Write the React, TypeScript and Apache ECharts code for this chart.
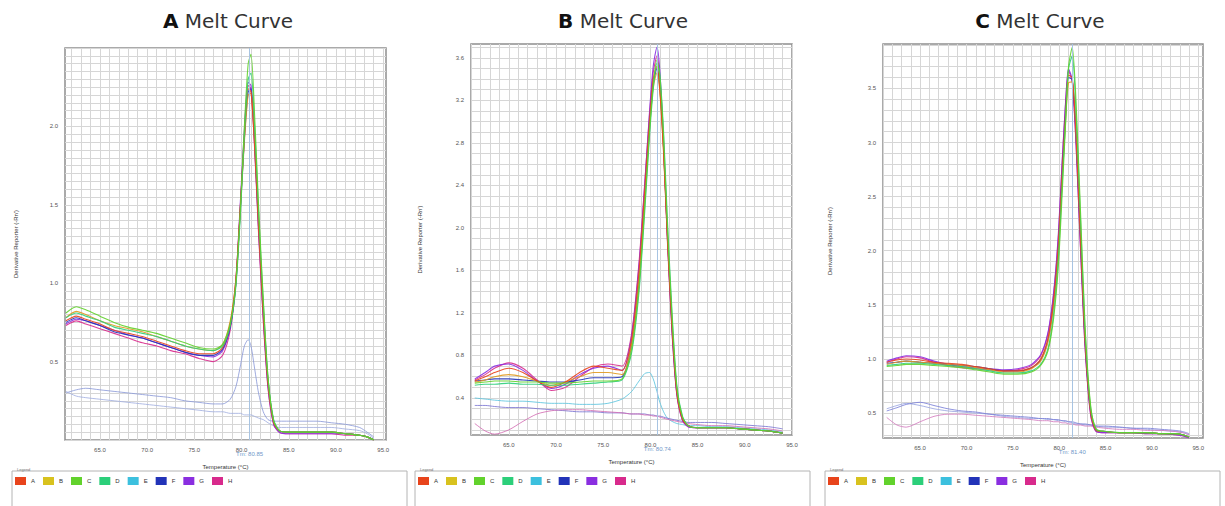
import React, { useEffect, useRef } from 'react';
import * as echarts from 'echarts';

// Temperatures (°C) at which the derivative curves are sampled
const temps = [61.4, 62.5, 63.5, 65, 66.5, 68, 69.5, 71, 72.5, 74, 75.5, 77, 78, 78.8, 79.4, 79.9, 80.3, 80.7, 81.0, 81.4, 81.8, 82.3, 82.8, 83.4, 84, 85, 86.5, 88, 89.5, 91, 92.5, 93.3, 94];

// Panel A – derivative reporter (-Rn')
const aRowA = [0.76,0.79,0.77,0.74,0.70,0.68,0.66,0.63,0.60,0.57,0.55,0.55,0.59,0.74,1.03,1.52,1.93,2.24,2.22,1.86,1.36,0.80,0.36,0.11,0.06,0.05,0.05,0.05,0.05,0.04,0.03,0.02,0.00];
const aRowB = [0.78,0.82,0.80,0.76,0.73,0.71,0.69,0.66,0.63,0.60,0.58,0.57,0.61,0.76,1.02,1.50,1.90,2.20,2.21,1.88,1.40,0.84,0.38,0.12,0.06,0.05,0.05,0.05,0.05,0.04,0.03,0.02,0.00];
const aRowC = [0.81,0.85,0.83,0.79,0.75,0.72,0.70,0.68,0.65,0.62,0.59,0.58,0.61,0.74,1.00,1.50,2.00,2.40,2.46,2.05,1.50,0.90,0.40,0.12,0.06,0.05,0.05,0.05,0.05,0.04,0.03,0.02,0.00];
const aRowD = [0.78,0.81,0.79,0.76,0.72,0.70,0.68,0.66,0.63,0.60,0.58,0.57,0.60,0.73,0.98,1.46,1.94,2.30,2.34,1.98,1.46,0.88,0.40,0.13,0.06,0.05,0.05,0.05,0.05,0.04,0.03,0.02,0.00];
const aRowE = [0.30,0.32,0.33,0.32,0.31,0.30,0.29,0.28,0.27,0.25,0.24,0.23,0.23,0.26,0.34,0.48,0.60,0.64,0.60,0.45,0.30,0.18,0.13,0.12,0.12,0.12,0.12,0.12,0.11,0.10,0.08,0.05,0.02];
const aRowF = [0.75,0.78,0.76,0.73,0.69,0.67,0.65,0.62,0.59,0.56,0.54,0.54,0.58,0.72,1.00,1.50,1.92,2.22,2.24,1.90,1.40,0.84,0.38,0.12,0.06,0.05,0.05,0.05,0.05,0.04,0.03,0.02,0.00];
const aRowFLow = [0.31,0.28,0.27,0.26,0.25,0.24,0.23,0.22,0.21,0.20,0.19,0.18,0.18,0.17,0.17,0.17,0.16,0.16,0.16,0.15,0.14,0.13,0.11,0.09,0.08,0.08,0.08,0.08,0.08,0.07,0.06,0.04,0.01];
const aRowG = [0.74,0.77,0.76,0.73,0.70,0.67,0.65,0.62,0.59,0.56,0.54,0.53,0.57,0.72,1.02,1.55,1.98,2.28,2.26,1.86,1.34,0.78,0.34,0.10,0.05,0.04,0.04,0.04,0.04,0.04,0.03,0.02,0.00];
const aRowH = [0.73,0.76,0.74,0.71,0.68,0.65,0.62,0.60,0.57,0.55,0.52,0.50,0.54,0.70,1.00,1.52,1.96,2.26,2.24,1.84,1.32,0.76,0.33,0.10,0.05,0.04,0.04,0.04,0.04,0.03,0.03,0.02,0.00];

// Panel B
const bRowA = [0.56,0.60,0.64,0.68,0.64,0.56,0.50,0.55,0.64,0.70,0.68,0.66,0.95,1.60,2.35,3.00,3.40,3.52,3.30,2.70,1.90,1.05,0.45,0.20,0.14,0.12,0.12,0.12,0.11,0.10,0.09,0.08,0.07];
const bRowB = [0.55,0.57,0.60,0.62,0.60,0.56,0.52,0.55,0.60,0.64,0.64,0.62,0.90,1.52,2.28,2.92,3.32,3.46,3.28,2.72,1.94,1.10,0.48,0.21,0.14,0.12,0.12,0.12,0.11,0.10,0.09,0.08,0.07];
const bRowC = [0.54,0.55,0.56,0.56,0.55,0.55,0.54,0.54,0.55,0.56,0.56,0.58,0.85,1.45,2.20,2.90,3.35,3.58,3.42,2.85,2.02,1.15,0.50,0.22,0.14,0.12,0.12,0.12,0.11,0.10,0.09,0.08,0.07];
const bRowD = [0.52,0.53,0.53,0.54,0.53,0.53,0.52,0.52,0.53,0.54,0.55,0.57,0.82,1.40,2.15,2.85,3.30,3.55,3.45,2.90,2.08,1.20,0.52,0.23,0.14,0.12,0.12,0.12,0.11,0.10,0.09,0.08,0.07];
const bRowE = [0.40,0.39,0.38,0.37,0.37,0.36,0.35,0.35,0.34,0.34,0.35,0.39,0.46,0.56,0.63,0.64,0.58,0.46,0.36,0.27,0.21,0.18,0.16,0.15,0.14,0.14,0.13,0.13,0.12,0.11,0.10,0.09,0.08];
const bRowF = [0.56,0.57,0.58,0.58,0.57,0.56,0.55,0.55,0.57,0.59,0.59,0.60,0.90,1.50,2.25,2.95,3.35,3.50,3.32,2.75,1.95,1.08,0.47,0.21,0.14,0.12,0.12,0.12,0.11,0.10,0.09,0.08,0.07];
const bRowFLow = [0.33,0.33,0.32,0.31,0.31,0.30,0.29,0.28,0.27,0.27,0.26,0.26,0.25,0.25,0.25,0.24,0.24,0.23,0.23,0.22,0.21,0.20,0.19,0.18,0.17,0.17,0.17,0.16,0.15,0.14,0.13,0.12,0.11];
const bRowG = [0.58,0.64,0.70,0.72,0.66,0.56,0.49,0.53,0.62,0.68,0.70,0.66,0.98,1.65,2.40,3.08,3.52,3.70,3.48,2.80,1.92,1.02,0.44,0.19,0.13,0.12,0.12,0.12,0.11,0.10,0.09,0.08,0.07];
const bRowH = [0.57,0.62,0.68,0.73,0.68,0.57,0.47,0.50,0.60,0.69,0.72,0.70,1.00,1.68,2.42,3.05,3.46,3.62,3.40,2.75,1.88,1.00,0.43,0.19,0.13,0.12,0.12,0.12,0.11,0.10,0.09,0.08,0.07];
const bRowHLow = [0.16,0.09,0.06,0.10,0.18,0.25,0.28,0.29,0.29,0.28,0.27,0.26,0.25,0.25,0.24,0.24,0.23,0.23,0.22,0.21,0.20,0.19,0.18,0.17,0.16,0.15,0.14,0.14,0.13,0.12,0.11,0.10,0.09];

// Panel C
const cRowA = [0.97,0.99,1.00,0.99,0.97,0.96,0.95,0.93,0.91,0.89,0.89,0.92,1.00,1.20,1.55,2.05,2.70,3.30,3.62,3.60,3.10,2.10,1.15,0.50,0.34,0.33,0.32,0.32,0.32,0.31,0.31,0.30,0.28];
const cRowB = [0.95,0.97,0.98,0.97,0.96,0.95,0.94,0.92,0.90,0.88,0.88,0.91,0.98,1.16,1.50,2.00,2.62,3.22,3.55,3.56,3.12,2.15,1.18,0.52,0.34,0.33,0.32,0.32,0.32,0.31,0.31,0.30,0.28];
const cRowC = [0.93,0.94,0.95,0.95,0.94,0.93,0.92,0.90,0.88,0.86,0.86,0.88,0.94,1.08,1.38,1.85,2.50,3.20,3.70,3.88,3.40,2.35,1.28,0.56,0.35,0.33,0.32,0.32,0.32,0.31,0.31,0.30,0.28];
const cRowD = [0.94,0.95,0.96,0.96,0.95,0.94,0.93,0.91,0.89,0.87,0.87,0.89,0.95,1.10,1.42,1.92,2.58,3.25,3.68,3.80,3.30,2.28,1.24,0.54,0.35,0.33,0.32,0.32,0.32,0.31,0.31,0.30,0.28];
const cRowE = [0.54,0.57,0.59,0.57,0.54,0.52,0.51,0.50,0.49,0.47,0.46,0.45,0.45,0.44,0.44,0.43,0.43,0.42,0.42,0.41,0.40,0.40,0.39,0.39,0.38,0.37,0.37,0.36,0.35,0.34,0.33,0.32,0.30];
const cRowF = [0.96,0.97,0.98,0.97,0.96,0.95,0.94,0.93,0.91,0.89,0.89,0.92,0.99,1.18,1.52,2.02,2.66,3.28,3.60,3.58,3.10,2.12,1.16,0.51,0.34,0.33,0.32,0.32,0.32,0.31,0.31,0.30,0.28];
const cRowFLow = [0.52,0.55,0.58,0.60,0.57,0.54,0.52,0.51,0.49,0.48,0.47,0.46,0.45,0.45,0.44,0.44,0.43,0.43,0.42,0.42,0.41,0.40,0.40,0.39,0.38,0.38,0.37,0.36,0.36,0.35,0.34,0.33,0.31];
const cRowG = [0.98,1.01,1.03,1.02,0.98,0.95,0.93,0.92,0.91,0.90,0.91,0.95,1.04,1.25,1.62,2.15,2.80,3.40,3.68,3.58,3.02,2.02,1.10,0.48,0.33,0.32,0.32,0.32,0.31,0.31,0.30,0.29,0.27];
const cRowH = [0.97,1.00,1.02,1.01,0.97,0.94,0.92,0.91,0.90,0.89,0.90,0.94,1.03,1.24,1.60,2.12,2.78,3.38,3.66,3.56,3.00,2.00,1.08,0.47,0.33,0.32,0.32,0.32,0.31,0.31,0.30,0.29,0.27];
const cRowHLow = [0.46,0.39,0.37,0.42,0.47,0.49,0.49,0.48,0.47,0.46,0.45,0.44,0.43,0.43,0.42,0.42,0.41,0.41,0.40,0.40,0.39,0.39,0.38,0.38,0.37,0.36,0.35,0.35,0.34,0.34,0.33,0.32,0.30];

// Tick labels and Tm values
const xTickLabels = [65, 70, 75, 80, 85, 90, 95];
const yTickLabelsA = [0.5, 1.0, 1.5, 2.0];
const yTickLabelsB = [0.4, 0.8, 1.2, 1.6, 2.0, 2.4, 2.8, 3.2, 3.6];
const yTickLabelsC = [0.5, 1.0, 1.5, 2.0, 2.5, 3.0, 3.5];
const tmValues = [80.85, 80.74, 81.4];
const panelLetters = ['A', 'B', 'C'];
const legendNames = ['A', 'B', 'C', 'D', 'E', 'F', 'G', 'H'];
const legendColors = ['#e8441c', '#d8c21e', '#62d22c', '#2ccf7a', '#3cc0de', '#2233b8', '#8a2ee0', '#d82a8c'];

// Layout / styling (not data)
const panels = [
  {
    grid: { left: 65, top: 48, width: 321, height: 392 },
    xMin: 61.3, xMax: 95.3, yMin: 0, yMax: 2.5, yStep: 0.05, yLabels: yTickLabelsA,
    titleX: 228, legendX: 12, nameGap: 46,
    curves: [
      { name: 'E', color: '#8d9bd8', data: aRowE, low: true },
      { name: 'F', color: '#a3b0e0', data: aRowFLow, low: true },
      { name: 'H', color: '#d82a8c', data: aRowH },
      { name: 'G', color: '#8a2ee0', data: aRowG },
      { name: 'F', color: '#2233b8', data: aRowF },
      { name: 'B', color: '#e09a20', data: aRowB },
      { name: 'A', color: '#e8441c', data: aRowA },
      { name: 'D', color: '#2ccf7a', data: aRowD },
      { name: 'C', color: '#62d22c', data: aRowC },
    ],
  },
  {
    grid: { left: 471, top: 44, width: 321, height: 391 },
    xMin: 61.0, xMax: 95.0, yMin: 0.052, yMax: 3.73, yStep: 0.1, yLabels: yTickLabelsB,
    titleX: 623, legendX: 415, nameGap: 48,
    curves: [
      { name: 'E', color: '#5cc4de', data: bRowE, low: true },
      { name: 'F', color: '#7a74d2', data: bRowFLow, low: true },
      { name: 'H', color: '#d46eb4', data: bRowHLow, low: true },
      { name: 'H', color: '#d82a8c', data: bRowH },
      { name: 'G', color: '#8a2ee0', data: bRowG },
      { name: 'F', color: '#2233b8', data: bRowF },
      { name: 'B', color: '#e09a20', data: bRowB },
      { name: 'A', color: '#e8441c', data: bRowA },
      { name: 'D', color: '#2ccf7a', data: bRowD },
      { name: 'C', color: '#62d22c', data: bRowC },
    ],
  },
  {
    grid: { left: 883, top: 44, width: 320, height: 394 },
    xMin: 61.0, xMax: 95.5, yMin: 0.27, yMax: 3.91, yStep: 0.1, yLabels: yTickLabelsC,
    titleX: 1040, legendX: 825, nameGap: 50,
    curves: [
      { name: 'E', color: '#9aa6e0', data: cRowE, low: true },
      { name: 'F', color: '#7a80d8', data: cRowFLow, low: true },
      { name: 'H', color: '#d47cc0', data: cRowHLow, low: true },
      { name: 'H', color: '#d82a8c', data: cRowH },
      { name: 'G', color: '#8a2ee0', data: cRowG },
      { name: 'F', color: '#2233b8', data: cRowF },
      { name: 'B', color: '#e09a20', data: cRowB },
      { name: 'A', color: '#e8441c', data: cRowA },
      { name: 'D', color: '#2ccf7a', data: cRowD },
      { name: 'C', color: '#62d22c', data: cRowC },
    ],
  },
];

function gridValues(min: number, max: number, step: number): number[] {
  const out: number[] = [];
  for (let k = Math.ceil(min / step - 1e-9); k * step <= max + 1e-9; k++) {
    out.push(+(k * step).toFixed(4));
  }
  return out;
}

export default function App() {
  const ref = useRef<HTMLDivElement>(null);

  useEffect(() => {
    document.body.style.margin = '0';
    if (!ref.current) return;
    const chart = echarts.init(ref.current, undefined, { renderer: 'svg' });

    const series: any[] = [];
    panels.forEach((p, i) => {
      p.curves.forEach((c, j) => {
        series.push({
          type: 'line',
          name: c.name,
          xAxisIndex: i,
          yAxisIndex: i,
          data: temps.map((t, k) => [t, c.data[k]]),
          showSymbol: false,
          smooth: 0.25,
          color: c.color,
          lineStyle: { width: c.low ? 1 : 1.1, color: c.color, opacity: c.low ? 0.85 : 0.9 },
          z: 3,
          markLine: j === 0 ? {
            silent: true,
            symbol: 'none',
            animation: false,
            data: [{ xAxis: tmValues[i] }],
            lineStyle: { color: '#a8c4e2', width: 1, type: 'solid' },
            label: {
              show: true,
              position: 'start',
              distance: 11,
              formatter: 'Tm: ' + tmValues[i].toFixed(2),
              fontSize: 6,
              color: '#6f97c9',
            },
          } : undefined,
        });
      });
    });

    const option: any = {
      animation: false,
      textStyle: { fontFamily: 'Liberation Sans, Arial, sans-serif' },
      grid: panels.map((p) => ({
        ...p.grid,
        show: true,
        borderColor: '#8e8e8e',
        borderWidth: 1.5,
        backgroundColor: '#ffffff',
        containLabel: false,
      })),
      xAxis: panels.map((p, i) => ({
        type: 'value',
        gridIndex: i,
        min: p.xMin,
        max: p.xMax,
        axisLine: { show: false },
        axisTick: { show: false, customValues: gridValues(p.xMin, p.xMax, 1) },
        axisLabel: {
          customValues: xTickLabels,
          formatter: (v: number) => v.toFixed(1),
          fontSize: 6,
          color: '#555',
          margin: 7,
        },
        splitLine: { show: true, lineStyle: { color: '#d6d6d6', width: 1 } },
        name: 'Temperature (°C)',
        nameLocation: 'middle',
        nameGap: 24,
        nameTextStyle: { fontSize: 6, color: '#333' },
      })),
      yAxis: panels.map((p, i) => ({
        type: 'value',
        gridIndex: i,
        min: p.yMin,
        max: p.yMax,
        axisLine: { show: false },
        axisTick: { show: false, customValues: gridValues(p.yMin, p.yMax, p.yStep) },
        axisLabel: {
          customValues: p.yLabels,
          formatter: (v: number) => v.toFixed(1),
          fontSize: 6,
          color: '#555',
          margin: 7,
        },
        splitLine: { show: true, lineStyle: { color: '#d6d6d6', width: 1 } },
        name: "Derivative Reporter (-Rn')",
        nameLocation: 'middle',
        nameRotate: 90,
        nameGap: p.nameGap,
        nameTextStyle: { fontSize: 6, color: '#333' },
      })),
      legend: panels.map((p) => ({
        left: p.legendX - 2,
        top: 472,
        orient: 'horizontal',
        icon: 'rect',
        itemWidth: 11,
        itemHeight: 8,
        itemGap: 8,
        selectedMode: false,
        textStyle: { fontSize: 6, color: '#333' },
        data: legendNames.map((n, k) => ({ name: n, itemStyle: { color: legendColors[k] } })),
      })),
      graphic: [
        ...panels.map((p, i) => ({
          type: 'text',
          x: p.titleX,
          y: 21,
          style: {
            text: '{b|' + panelLetters[i] + '} Melt Curve',
            rich: { b: { fontWeight: 'bold', fontSize: 20, fill: '#111', fontFamily: 'DejaVu Sans' } },
            fontSize: 20,
            fontFamily: 'DejaVu Sans',
            fill: '#333',
            textAlign: 'center',
            textVerticalAlign: 'middle',
          },
        })),
        ...panels.map((p) => ({
          type: 'rect',
          shape: { x: p.legendX, y: 471, width: 395, height: 45 },
          style: { fill: 'none', stroke: '#b4b4b4', lineWidth: 1 },
        })),
        ...panels.map((p) => ({
          type: 'text',
          x: p.legendX + 5,
          y: 467,
          style: { text: 'Legend', fontSize: 4, fill: '#777' },
        })),
      ],
      series,
    };

    chart.setOption(option);
    return () => chart.dispose();
  }, []);

  return <div ref={ref} style={{ width: 1225, height: 506 }} />;
}
